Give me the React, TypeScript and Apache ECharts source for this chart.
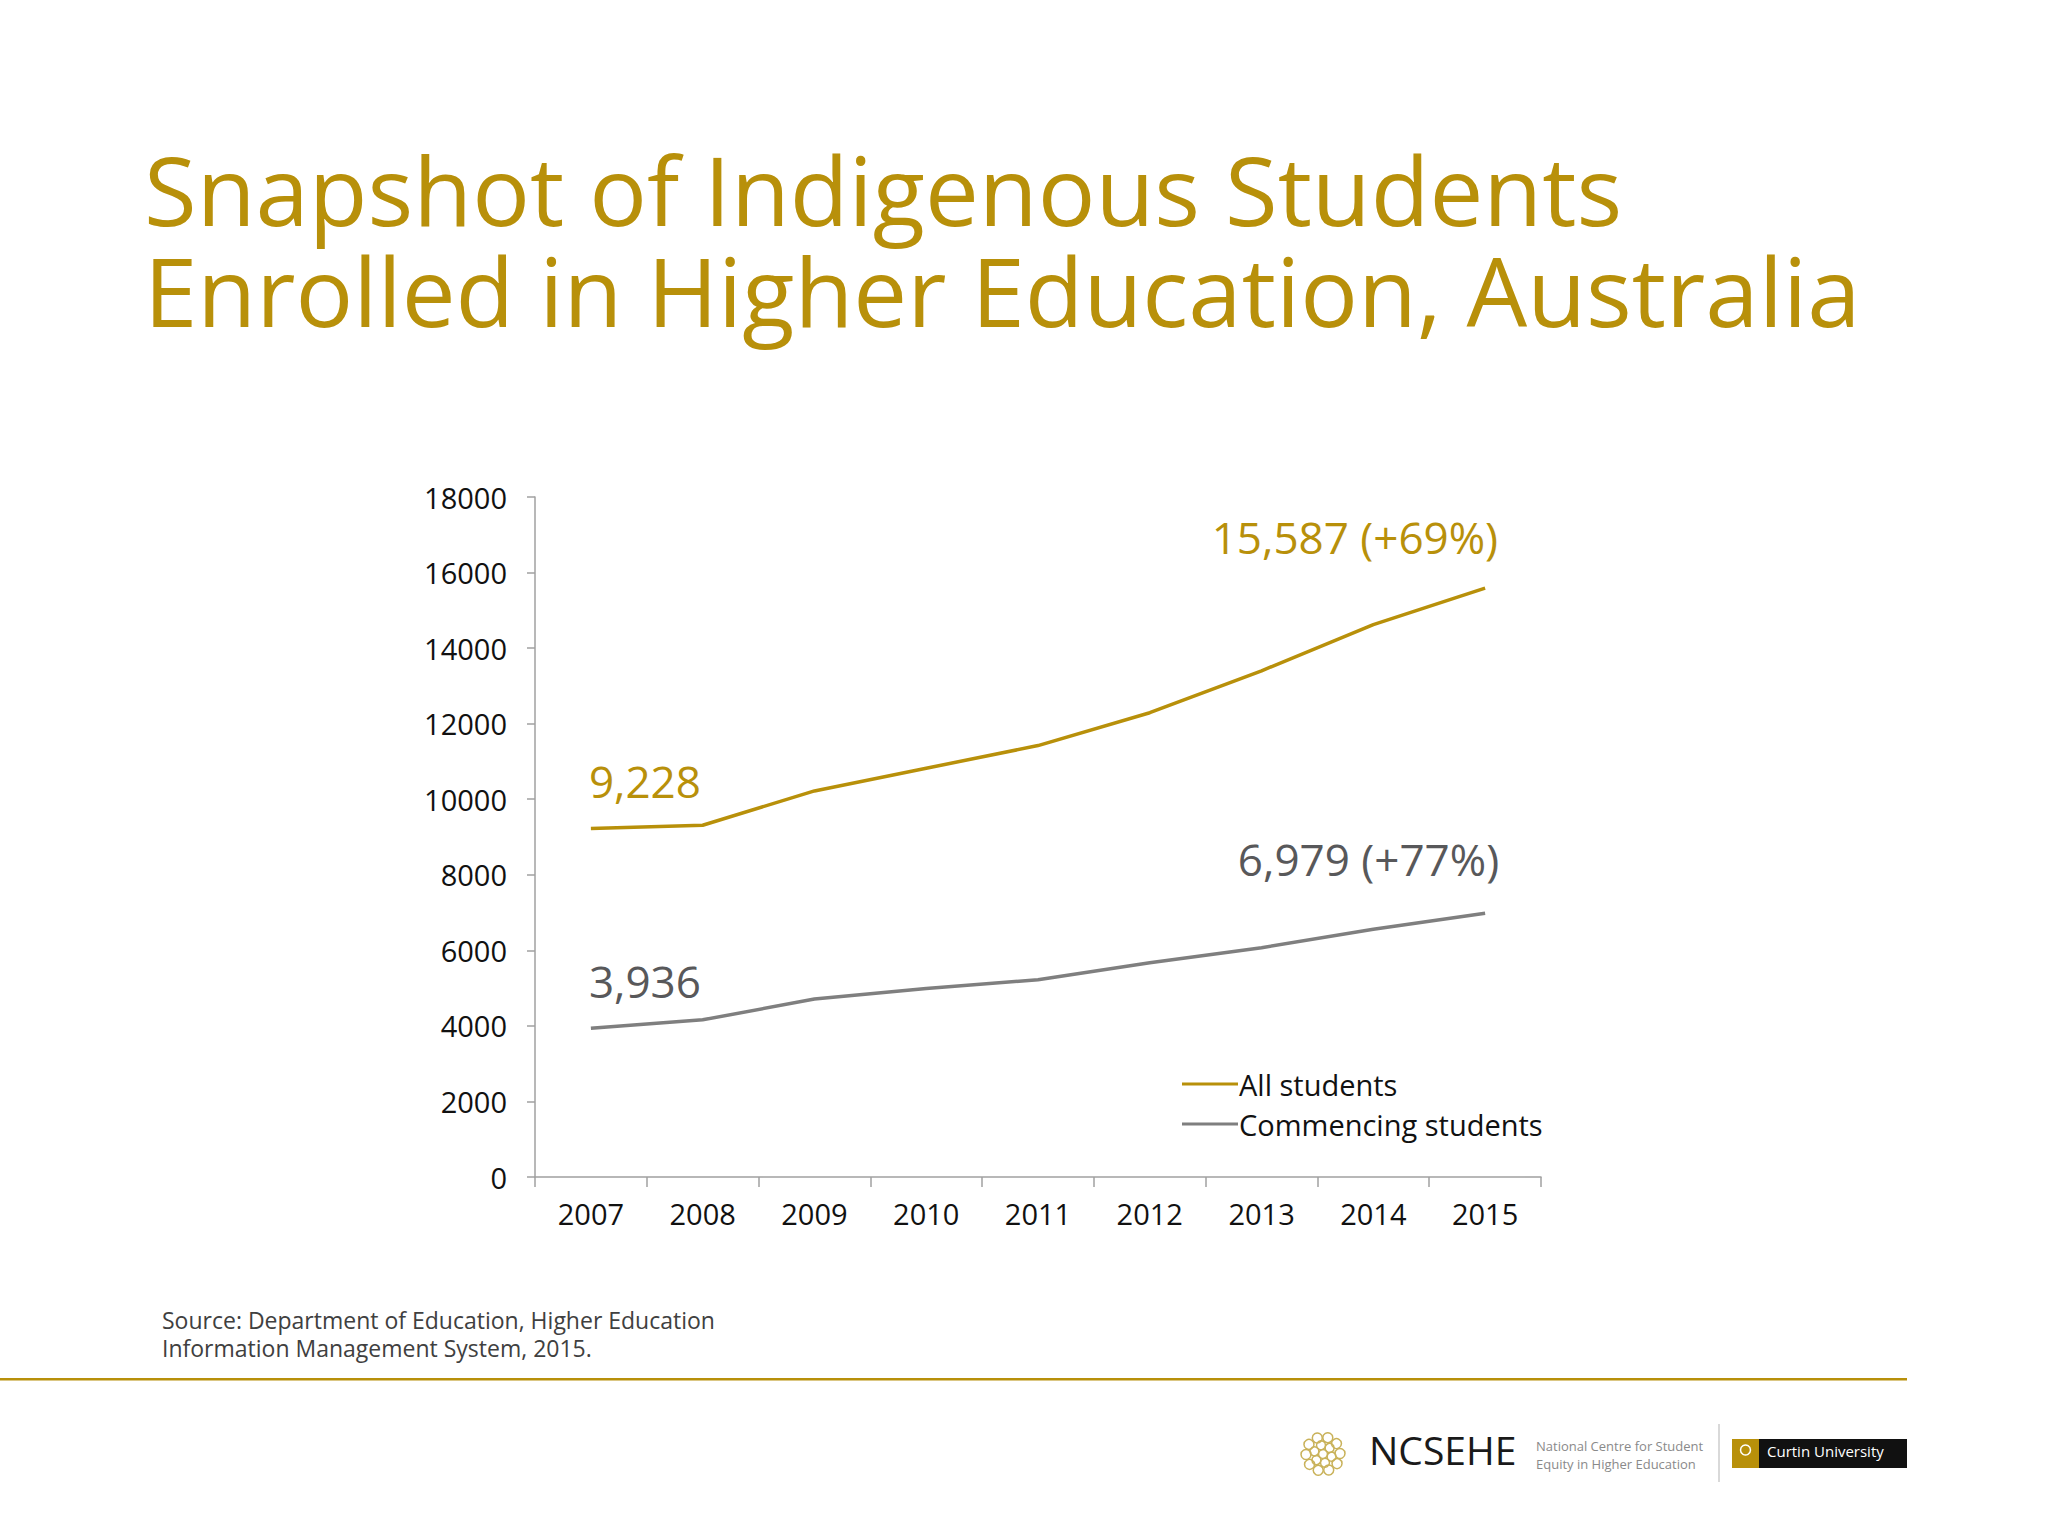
import React, { useEffect, useRef } from "react";
import * as echarts from "echarts";

const years = ["2007", "2008", "2009", "2010", "2011", "2012", "2013", "2014", "2015"];
const allStudents = [9228, 9310, 10220, 10820, 11420, 12290, 13400, 14620, 15587];
const commencing = [3936, 4160, 4710, 4990, 5220, 5670, 6070, 6560, 6979];
const firstLabels = ["9,228", "3,936"];
const lastLabels = ["15,587 (+69%)", "6,979 (+77%)"];
const seriesNames = ["All students", "Commencing students"];

const GOLD = "#B8900A";
const GRAY_LINE = "#7F7F7F";
const GRAY_TEXT = "#58585A";
const FONT = "'Open Sans', 'Noto Sans', sans-serif";

function buildData(values: number[], first: string, last: string, color: string, lastOffset: number[]) {
  return values.map((v, i) => {
    if (i === 0) {
      return {
        value: v,
        label: {
          show: true,
          formatter: first,
          position: "top",
          distance: 0,
          align: "left",
          verticalAlign: "middle",
          offset: [-2, -47],
          color,
          fontSize: 44,
          fontFamily: FONT,
        },
      };
    }
    if (i === values.length - 1) {
      return {
        value: v,
        label: {
          show: true,
          formatter: last,
          position: "top",
          distance: 0,
          align: "right",
          verticalAlign: "middle",
          offset: lastOffset,
          color,
          fontSize: 44,
          fontFamily: FONT,
        },
      };
    }
    return v;
  });
}

export default function App() {
  const ref = useRef<HTMLDivElement>(null);

  useEffect(() => {
    document.body.style.margin = "0";
    if (!ref.current) return;
    const chart = echarts.init(ref.current, undefined, { renderer: "svg" });

    const logoDots: any[] = [];
    const ringR = [0, 9, 17];
    const counts = [1, 6, 10];
    ringR.forEach((r, k) => {
      for (let j = 0; j < counts[k]; j++) {
        const a = (j / counts[k]) * Math.PI * 2 + k * 0.3;
        logoDots.push({
          type: "circle",
          shape: { cx: 1323 + r * Math.cos(a), cy: 1454 + r * Math.sin(a), r: k === 2 ? 5 : 4.5 },
          style: { fill: "none", stroke: "#C9B25A", lineWidth: 1.5 },
        });
      }
    });

    chart.setOption({
      animation: false,
      backgroundColor: "#ffffff",
      grid: { left: 535, right: 507, top: 497, bottom: 359, containLabel: false },
      legend: {
        orient: "vertical",
        left: 1177,
        top: 1064,
        icon: "rect",
        itemWidth: 56,
        itemHeight: 3,
        itemGap: 10,
        data: seriesNames,
        textStyle: { fontSize: 29, color: "#111111", fontFamily: FONT, lineHeight: 30, padding: [0, 0, 0, -4] },
      },
      xAxis: {
        type: "category",
        data: years,
        boundaryGap: true,
        axisLine: { lineStyle: { color: "#A0A0A0", width: 1.5 } },
        axisTick: { show: true, length: 10, lineStyle: { color: "#A0A0A0", width: 1.5 } },
        axisLabel: { fontSize: 29, color: "#111111", fontFamily: FONT, margin: 22 },
        splitLine: { show: false },
      },
      yAxis: {
        type: "value",
        min: 0,
        max: 18000,
        interval: 2000,
        axisLine: { show: true, lineStyle: { color: "#A0A0A0", width: 1.5 } },
        axisTick: { show: true, length: 8, lineStyle: { color: "#A0A0A0", width: 1.5 } },
        axisLabel: {
          fontSize: 29,
          color: "#111111",
          fontFamily: FONT,
          margin: 28,
          formatter: (v: number) => String(v),
        },
        splitLine: { show: false },
      },
      series: [
        {
          name: seriesNames[0],
          type: "line",
          data: buildData(allStudents, firstLabels[0], lastLabels[0], GOLD, [13, -51]),
          symbol: "circle",
          symbolSize: 0.01,
          showSymbol: true,
          lineStyle: { color: GOLD, width: 3.5 },
          itemStyle: { color: GOLD },
        },
        {
          name: seriesNames[1],
          type: "line",
          data: buildData(commencing, firstLabels[1], lastLabels[1], GRAY_TEXT, [14, -54]),
          symbol: "circle",
          symbolSize: 0.01,
          showSymbol: true,
          lineStyle: { color: GRAY_LINE, width: 3.5 },
          itemStyle: { color: GRAY_LINE },
        },
      ],
      graphic: [
        {
          type: "text",
          left: 144,
          top: 138,
          style: {
            text: "Snapshot of Indigenous Students\nEnrolled in Higher Education, Australia",
            fontSize: 96,
            lineHeight: 101,
            fontFamily: FONT,
            fill: GOLD,
          },
        },
        {
          type: "text",
          left: 162,
          top: 1306,
          style: {
            text: "Source: Department of Education, Higher Education\nInformation Management System, 2015.",
            fontSize: 23,
            lineHeight: 28,
            fontFamily: FONT,
            fill: "#404040",
          },
        },
        {
          type: "rect",
          shape: { x: 0, y: 1378, width: 1907, height: 2.5 },
          style: { fill: GOLD },
        },
        ...logoDots,
        {
          type: "text",
          left: 1369,
          top: 1430,
          style: { text: "NCSEHE", fontSize: 39, fontFamily: FONT, fill: "#1a1a1a" },
        },
        {
          type: "text",
          left: 1536,
          top: 1437,
          style: {
            text: "National Centre for Student\nEquity in Higher Education",
            fontSize: 13,
            lineHeight: 18,
            fontFamily: FONT,
            fill: "#8a8a8a",
          },
        },
        {
          type: "line",
          shape: { x1: 1719, y1: 1424, x2: 1719, y2: 1482 },
          style: { stroke: "#cccccc", lineWidth: 1.5 },
        },
        {
          type: "rect",
          shape: { x: 1732, y: 1439, width: 27, height: 29 },
          style: { fill: "#B8900A" },
        },
        {
          type: "rect",
          shape: { x: 1759, y: 1439, width: 148, height: 29 },
          style: { fill: "#111111" },
        },
        {
          type: "circle",
          shape: { cx: 1745.5, cy: 1450, r: 5 },
          style: { fill: "none", stroke: "#ffffff", lineWidth: 1.5 },
        },
        {
          type: "text",
          left: 1767,
          top: 1443,
          style: { text: "Curtin University", fontSize: 15, fontFamily: FONT, fill: "#ffffff" },
        },
      ],
    });

    return () => {
      chart.dispose();
    };
  }, []);

  return <div ref={ref} style={{ width: 2048, height: 1536 }} />;
}
